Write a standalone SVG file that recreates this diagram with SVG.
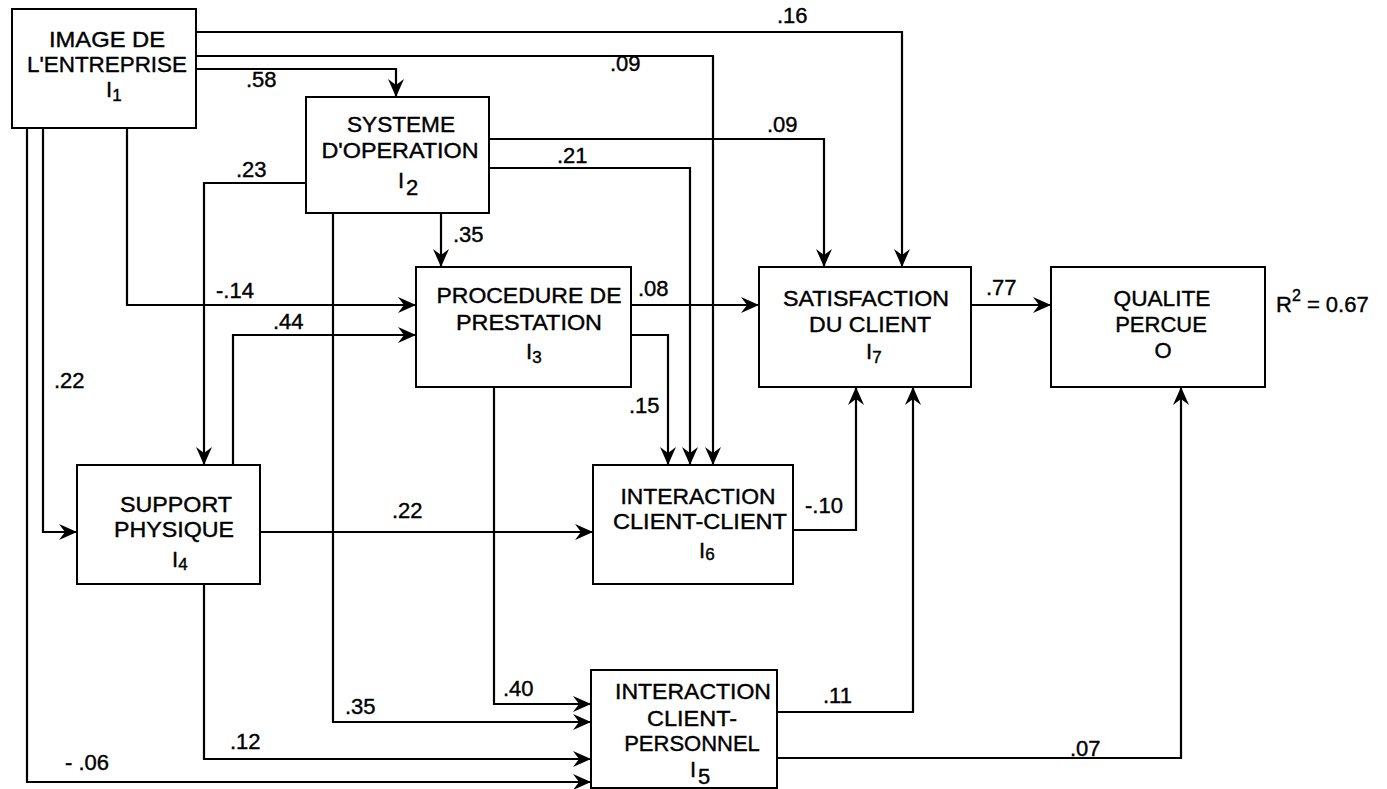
<svg xmlns="http://www.w3.org/2000/svg" width="1387" height="789" viewBox="0 0 1387 789">
<style>
  .box { fill: #fff; stroke: #000; stroke-width: 2; }
  .t { font-family: "Liberation Sans", Arial, sans-serif; font-size: 22px; fill: #000; stroke: #000; stroke-width: 0.4; }
  .c { text-anchor: middle; }
  .lbl { font-family: "Liberation Sans", Arial, sans-serif; font-size: 22px; fill: #000; stroke: #000; stroke-width: 0.4; }
  .ln { fill: none; stroke: #000; stroke-width: 2.2; }
  .arr { marker-end: url(#ah); }
</style>
<defs>
  <marker id="ah" viewBox="0 0 18 16" refX="18" refY="8" markerWidth="18" markerHeight="16" orient="auto" markerUnits="userSpaceOnUse">
    <path d="M0,0 L18,8 L0,16 L6,8 Z" fill="#000"/>
  </marker>
</defs>
<rect width="1387" height="789" fill="#fff"/>

<g id="connectors">
  <path class="ln arr" d="M196,32 H902 V267"/>
  <path class="ln arr" d="M196,56 H713 V465"/>
  <path class="ln arr" d="M196,69 H396 V97"/>
  <path class="ln arr" d="M489,139 H824 V267"/>
  <path class="ln arr" d="M489,168 H690 V465"/>
  <path class="ln arr" d="M441,213 V267"/>
  <path class="ln arr" d="M306,183 H204 V465"/>
  <path class="ln arr" d="M333,213 V722 H591"/>
  <path class="ln arr" d="M127,128 V305 H416"/>
  <path class="ln arr" d="M233,465 V335 H416"/>
  <path class="ln arr" d="M43,128 V532 H77"/>
  <path class="ln arr" d="M27,128 V782 H591"/>
  <path class="ln arr" d="M260,532 H593"/>
  <path class="ln arr" d="M204,584 V759 H591"/>
  <path class="ln arr" d="M631,305 H759"/>
  <path class="ln arr" d="M631,335 H668 V465"/>
  <path class="ln arr" d="M494,387 V704 H591"/>
  <path class="ln arr" d="M793,530 H856 V387"/>
  <path class="ln arr" d="M777,712 H913 V387"/>
  <path class="ln arr" d="M777,758 H1181 V387"/>
  <path class="ln arr" d="M971,305 H1051"/>
  <g id="labels">
    <text class="lbl" x="777" y="23">.16</text>
    <text class="lbl" x="610" y="71">.09</text>
    <text class="lbl" x="246" y="87">.58</text>
    <text class="lbl" x="767" y="132">.09</text>
    <text class="lbl" x="557" y="163">.21</text>
    <text class="lbl" x="453" y="242">.35</text>
    <text class="lbl" x="236" y="177">.23</text>
    <text class="lbl" x="345" y="714">.35</text>
    <text class="lbl" x="216" y="298">-.14</text>
    <text class="lbl" x="273" y="329">.44</text>
    <text class="lbl" x="54" y="388">.22</text>
    <text class="lbl" x="65" y="770">- .06</text>
    <text class="lbl" x="392" y="518">.22</text>
    <text class="lbl" x="230" y="749">.12</text>
    <text class="lbl" x="638" y="296">.08</text>
    <text class="lbl" x="629" y="413">.15</text>
    <text class="lbl" x="503" y="696">.40</text>
    <text class="lbl" x="805" y="513">-.10</text>
    <text class="lbl" x="823" y="703">.11</text>
    <text class="lbl" x="1070" y="756">.07</text>
    <text class="lbl" x="986" y="295">.77</text>
  </g>
</g>

<g id="node-i1">
  <rect class="box" x="12" y="9" width="184" height="119"/>
  <text class="t c" x="107" y="47" textLength="116" lengthAdjust="spacingAndGlyphs">IMAGE DE</text>
  <text class="t c" x="107" y="72" textLength="160" lengthAdjust="spacingAndGlyphs">L'ENTREPRISE</text>
  <text class="t" x="106" y="97">I<tspan font-size="17" dy="4">1</tspan></text>
</g>

<g id="node-i2">
  <rect class="box" x="306" y="97" width="183" height="116"/>
  <text class="t c" x="401" y="132" textLength="108" lengthAdjust="spacingAndGlyphs">SYSTEME</text>
  <text class="t c" x="400" y="158" textLength="157" lengthAdjust="spacingAndGlyphs">D'OPERATION</text>
  <text class="t" x="398" y="188">I</text>
  <text class="t" x="406" y="195" font-size="18">2</text>
</g>

<g id="node-i3">
  <rect class="box" x="416" y="267" width="215" height="120"/>
  <text class="t c" x="529" y="303" textLength="185" lengthAdjust="spacingAndGlyphs">PROCEDURE DE</text>
  <text class="t c" x="529" y="330" textLength="146" lengthAdjust="spacingAndGlyphs">PRESTATION</text>
  <text class="t" x="526" y="359">I<tspan font-size="17" dy="4">3</tspan></text>
</g>

<g id="node-i7">
  <rect class="box" x="759" y="267" width="212" height="120"/>
  <text class="t c" x="866" y="306" textLength="166" lengthAdjust="spacingAndGlyphs">SATISFACTION</text>
  <text class="t c" x="870" y="332" textLength="122" lengthAdjust="spacingAndGlyphs">DU CLIENT</text>
  <text class="t" x="866" y="359">I<tspan font-size="17" dy="4">7</tspan></text>
</g>

<g id="node-o">
  <rect class="box" x="1051" y="267" width="214" height="120"/>
  <text class="t c" x="1162" y="306" textLength="97" lengthAdjust="spacingAndGlyphs">QUALITE</text>
  <text class="t c" x="1161" y="332">PERCUE</text>
  <text class="t c" x="1163" y="358">O</text>
</g>

<g id="r2">
  <text class="t" x="1276" y="312" font-size="23">R<tspan font-size="16" dy="-11">2</tspan><tspan dy="11"> = 0.67</tspan></text>
</g>

<g id="node-i6">
  <rect class="box" x="593" y="465" width="200" height="119"/>
  <text class="t c" x="698" y="504" textLength="155" lengthAdjust="spacingAndGlyphs">INTERACTION</text>
  <text class="t c" x="700" y="529" textLength="174" lengthAdjust="spacingAndGlyphs">CLIENT-CLIENT</text>
  <text class="t" x="699" y="558">I<tspan font-size="17" dy="2">6</tspan></text>
</g>

<g id="node-i4">
  <rect class="box" x="77" y="465" width="183" height="119"/>
  <text class="t c" x="176" y="512" textLength="112" lengthAdjust="spacingAndGlyphs">SUPPORT</text>
  <text class="t c" x="174" y="537" textLength="120" lengthAdjust="spacingAndGlyphs">PHYSIQUE</text>
  <text class="t" x="172" y="567">I<tspan font-size="17" dy="3">4</tspan></text>
</g>

<g id="node-i5">
  <rect class="box" x="591" y="670" width="186" height="118"/>
  <text class="t c" x="693" y="699" textLength="156" lengthAdjust="spacingAndGlyphs">INTERACTION</text>
  <text class="t c" x="692" y="726" textLength="90" lengthAdjust="spacingAndGlyphs">CLIENT-</text>
  <text class="t c" x="692" y="751">PERSONNEL</text>
  <text class="t" x="690" y="777">I</text>
  <text class="t" x="698" y="784" font-size="18">5</text>
</g>
</svg>
